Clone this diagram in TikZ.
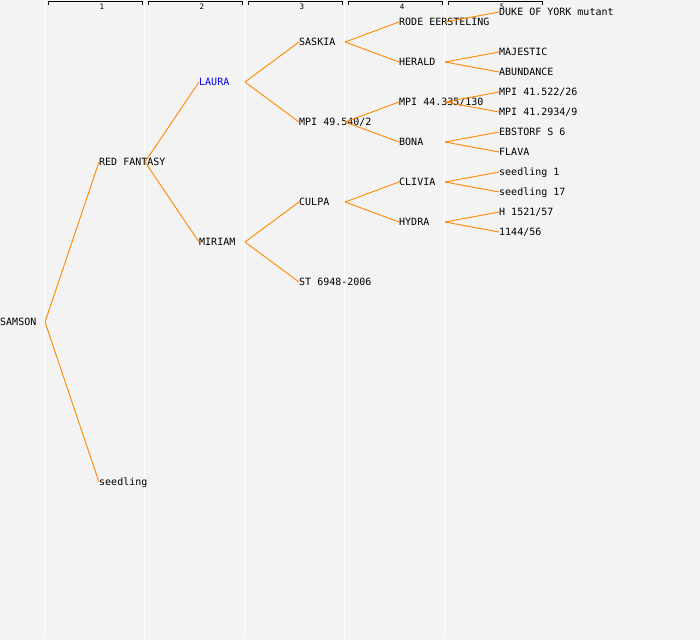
\documentclass[tikz,border=0pt]{standalone}
\usepackage{fontspec}
\setmonofont{DejaVu Sans Mono}
\definecolor{bgrey}{RGB}{243,243,243}
\definecolor{lorange}{RGB}{255,136,0}
\begin{document}
\begin{tikzpicture}[
   x=1pt,y=-1pt,
   font=\ttfamily\fontsize{10}{12}\selectfont,
   cult/.style={anchor=west,inner sep=0pt,text height=7pt,text depth=0pt},
   link/.style={lorange,line width=0.9pt},
   sep/.style={white,line width=1.5pt},
   bracket/.style={black,line width=0.9pt},
   colnum/.style={font=\ttfamily\fontsize{7.5}{8}\selectfont,inner sep=0pt}]
\useasboundingbox[fill=bgrey] (0,0) rectangle (700,640);
\foreach \k in {0,...,4}
  \draw[sep] (44.5+100*\k,0) -- (44.5+100*\k,638);
\foreach \k in {1,...,5}{
  \draw[bracket] (100*\k-52,4.5) -- (100*\k-52,1.5) -- (100*\k+42,1.5) -- (100*\k+42,4.5);
  \node[colnum] (c\k) at (100*\k+2,6.5) {\k};
}
% generation 0 and 1
\node[cult] (S)  at (0,322)  {SAMSON};
\node[cult] (RF) at (99,162) {RED FANTASY};
\node[cult] (sd) at (99,482) {seedling};
% generation 2
\node[cult,text=blue] (L) at (199,82) {LAURA};
\node[cult] (M)  at (199,242) {MIRIAM};
% generation 3
\node[cult] (SA) at (299,42)  {SASKIA};
\node[cult] (MP) at (299,122) {MPI 49.540/2};
\node[cult] (CU) at (299,202) {CULPA};
\node[cult] (ST) at (299,282) {ST 6948-2006};
% generation 4
\node[cult] (RE) at (399,22)  {RODE EERSTELING};
\node[cult] (HE) at (399,62)  {HERALD};
\node[cult] (MQ) at (399,102) {MPI 44.335/130};
\node[cult] (BO) at (399,142) {BONA};
\node[cult] (CL) at (399,182) {CLIVIA};
\node[cult] (HY) at (399,222) {HYDRA};
% generation 5
\node[cult] (DY) at (499,12)  {DUKE OF YORK mutant};
\node[cult] (MA) at (499,52)  {MAJESTIC};
\node[cult] (AB) at (499,72)  {ABUNDANCE};
\node[cult] (M1) at (499,92)  {MPI 41.522/26};
\node[cult] (M2) at (499,112) {MPI 41.2934/9};
\node[cult] (EB) at (499,132) {EBSTORF S 6};
\node[cult] (FL) at (499,152) {FLAVA};
\node[cult] (s1) at (499,172) {seedling 1};
\node[cult] (s2) at (499,192) {seedling 17};
\node[cult] (H1) at (499,212) {H 1521/57};
\node[cult] (HN) at (499,232) {1144/56};
% links
\draw[link] ([xshift=45pt]S.west) -- (RF.west);
\draw[link] ([xshift=45pt]S.west) -- (sd.west);
\draw[link] ([xshift=46pt]RF.west) -- (L.west);
\draw[link] ([xshift=46pt]RF.west) -- (M.west);
\draw[link] ([xshift=46pt]L.west) -- (SA.west);
\draw[link] ([xshift=46pt]L.west) -- (MP.west);
\draw[link] ([xshift=46pt]M.west) -- (CU.west);
\draw[link] ([xshift=46pt]M.west) -- (ST.west);
\draw[link] ([xshift=46pt]SA.west) -- (RE.west);
\draw[link] ([xshift=46pt]SA.west) -- (HE.west);
\draw[link] ([xshift=46pt]MP.west) -- (MQ.west);
\draw[link] ([xshift=46pt]MP.west) -- (BO.west);
\draw[link] ([xshift=46pt]CU.west) -- (CL.west);
\draw[link] ([xshift=46pt]CU.west) -- (HY.west);
\draw[link] ([xshift=46pt]RE.west) -- (DY.west);
\draw[link] ([xshift=46pt]HE.west) -- (MA.west);
\draw[link] ([xshift=46pt]HE.west) -- (AB.west);
\draw[link] ([xshift=46pt]MQ.west) -- (M1.west);
\draw[link] ([xshift=46pt]MQ.west) -- (M2.west);
\draw[link] ([xshift=46pt]BO.west) -- (EB.west);
\draw[link] ([xshift=46pt]BO.west) -- (FL.west);
\draw[link] ([xshift=46pt]CL.west) -- (s1.west);
\draw[link] ([xshift=46pt]CL.west) -- (s2.west);
\draw[link] ([xshift=46pt]HY.west) -- (H1.west);
\draw[link] ([xshift=46pt]HY.west) -- (HN.west);
\end{tikzpicture}
\end{document}
